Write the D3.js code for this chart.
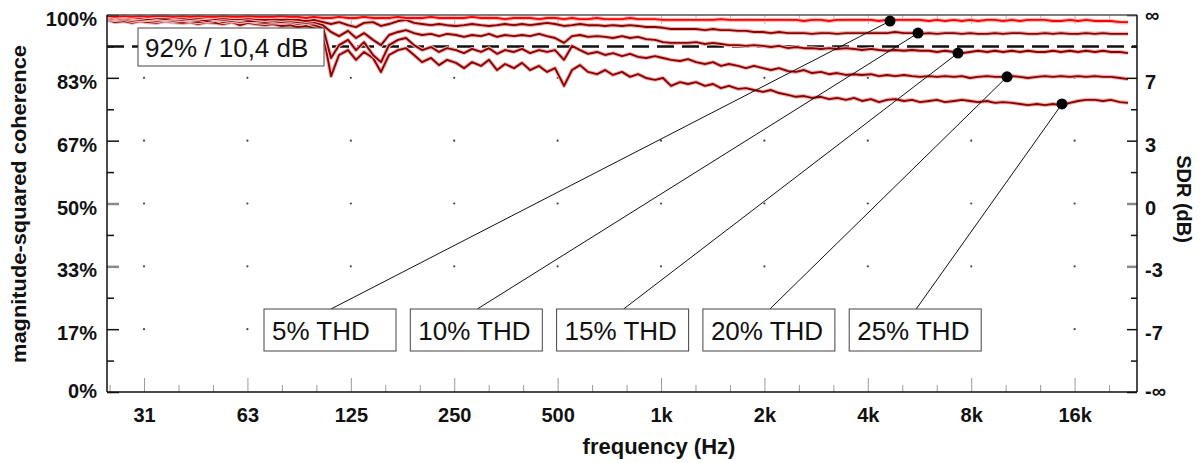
<!DOCTYPE html>
<html><head><meta charset="utf-8">
<script src="https://cdn.jsdelivr.net/npm/d3@7"></script>
<style>
html,body{margin:0;padding:0;background:#fff;}
svg{display:block;font-family:"Liberation Sans",Arial,Helvetica,sans-serif;}
</style></head><body>
<svg id="chart" width="1200" height="463"></svg>
<script>
// ---------------- data ----------------
const frequencies = [
 24.38,25.73,27.33,28.83,30.42,32.10,34.10,35.98,37.96,40.32,
 42.54,44.88,47.66,50.30,53.07,56.37,59.47,62.75,66.21,70.32,
 74.20,78.29,83.16,87.74,92.57,97.68,103.75,109.47,115.50,122.67,
 129.43,136.57,145.04,153.03,161.47,171.51,180.97,190.94,201.46,213.99,
 225.78,238.22,253.03,266.98,281.69,299.20,315.69,333.09,351.44,373.28,
 393.84,415.56,441.41,465.75,491.41,521.97,550.72,581.06,613.09,651.19,
 687.06,724.91,770.00,812.44,857.22,904.34,960.56,1013.4,1069.3,1135.8,
 1198.2,1264.2,1342.6,1416.7,1494.8,1577.0,1675.0,1767.3,1864.7,1981.2,
 2090.0,2205.4,2342.6,2471.6,2607.8,2751.1,2922.3,3083.5,3253.2,3455.8,
 3646.2,3847.2,4087.2,4312.2,4550.0,4800.3,5099.1,5380.0,5675.9,6029.1,
 6360.9,6711.3,7129.7,7521.6,7936.6,8373.8,8893.8,9383.1,9899.1,10514,
 11094,11705,12433,13117,13840,14602,15512,16366,17268,18344,
 19354,20419,21689,22884];

const thd5 = [
 99.7,99.5,99.7,99.5,99.7,99.5,99.7,99.7,99.5,99.7,
 99.5,99.7,99.5,99.5,99.7,99.5,99.5,99.7,99.5,99.5,
 99.5,99.7,99.5,99.5,99.2,99.5,99.2,99.2,99.5,99.2,
 99.2,99.5,99.2,99.2,99.2,99.5,99.2,99.2,99.2,99.5,
 99.2,99.2,99.2,99.2,99.5,99.2,99.2,99.2,98.9,99.2,
 99.2,99.2,98.9,99.2,99.2,98.9,99.2,98.9,98.9,99.2,
 98.9,98.9,98.9,99.2,98.9,98.9,98.9,98.7,98.7,98.7,
 98.7,98.7,98.7,98.7,98.9,98.7,98.7,98.7,98.7,98.7,
 98.7,98.7,98.7,98.7,98.4,98.7,98.7,98.4,98.7,98.7,
 98.7,98.7,98.7,98.4,98.7,98.7,98.7,98.7,98.7,98.4,
 98.7,98.4,98.7,98.4,98.7,98.4,98.7,98.7,98.4,98.7,
 98.4,98.7,98.7,98.7,98.4,98.4,98.7,98.4,98.7,98.4,
 98.4,98.4,98.1,98.1];

const thd10 = [
 99.5,99.2,99.5,99.2,99.2,99.5,99.2,98.9,99.2,99.2,
 98.9,99.2,99.2,98.9,99.2,98.9,98.9,99.2,98.9,98.7,
 98.9,98.7,98.9,98.7,98.4,98.7,98.1,97.6,98.1,97.3,
 96.8,97.9,98.1,97.1,97.6,98.4,98.7,97.9,97.6,97.3,
 97.6,97.3,97.1,97.3,97.6,97.3,97.1,97.3,97.6,97.3,
 97.6,97.3,97.6,97.9,97.6,97.1,97.3,97.6,97.3,97.3,
 97.1,97.3,97.1,97.3,97.1,96.8,96.8,96.6,96.3,96.3,
 96.3,96.3,96.0,96.3,96.0,96.0,95.8,95.8,95.5,95.5,
 95.2,95.5,95.2,95.2,95.2,95.0,95.2,95.2,95.0,95.2,
 95.2,95.2,95.2,95.2,95.2,95.5,95.2,95.2,95.0,95.2,
 95.0,95.2,95.2,95.0,95.2,95.0,95.0,95.2,95.0,95.2,
 95.2,95.0,95.0,95.2,95.0,95.2,95.0,95.0,95.2,95.0,
 95.2,95.0,95.0,95.0];

const thd15 = [
 99.2,98.9,99.2,98.9,98.7,98.9,98.9,98.7,98.9,98.7,
 98.7,98.9,98.4,98.7,98.7,98.4,98.7,98.4,98.4,98.7,
 98.4,98.1,98.4,98.1,97.9,98.1,97.3,95.5,94.4,95.8,
 93.9,95.2,93.4,92.0,94.7,95.5,96.0,95.2,94.7,95.0,
 94.4,95.0,94.7,94.2,94.7,94.4,95.0,94.2,94.7,94.4,
 94.7,94.4,95.0,94.4,93.9,92.6,94.4,94.7,94.2,94.4,
 94.2,93.9,94.4,93.9,94.2,93.6,93.4,92.8,92.6,92.6,
 92.6,92.8,92.3,92.6,92.3,92.0,92.0,91.8,92.0,91.8,
 91.5,91.8,91.2,91.5,91.2,91.2,91.0,91.2,91.0,91.2,
 91.0,90.7,91.0,90.7,90.5,90.7,90.5,90.7,90.5,90.5,
 90.2,90.5,90.2,89.9,90.2,90.5,90.2,90.5,90.2,90.5,
 90.2,90.5,90.2,90.2,90.5,90.2,90.5,90.2,90.5,90.2,
 90.5,90.2,90.2,89.9];

const thd20 = [
 98.9,98.7,98.9,98.4,98.7,98.7,98.4,98.7,98.4,98.7,
 98.4,98.1,98.4,98.7,98.1,98.4,98.1,98.4,98.1,97.9,
 98.1,97.9,98.1,97.6,97.9,97.3,96.6,88.6,92.0,93.4,
 90.7,92.8,89.4,87.5,92.0,93.4,93.9,92.0,90.7,91.5,
 90.2,91.2,90.7,89.9,91.0,90.2,91.2,89.7,90.7,90.2,
 91.0,89.9,90.7,90.2,90.7,88.1,91.8,90.7,89.7,90.2,
 89.4,89.9,89.1,89.7,88.9,88.6,89.1,88.6,88.1,87.8,
 88.3,87.5,87.0,87.5,86.5,87.0,86.5,85.9,86.5,85.9,
 85.4,85.9,85.1,84.9,85.4,84.6,84.9,84.3,84.6,84.1,
 84.3,84.1,84.3,83.8,84.1,83.8,84.1,83.8,83.6,83.8,
 83.6,83.8,83.6,83.8,83.3,83.6,83.8,83.6,83.6,83.8,
 83.6,83.3,83.6,83.8,83.6,83.8,83.6,83.8,83.6,83.8,
 83.6,83.6,83.3,83.0];

const thd25 = [
 98.7,98.1,98.4,97.9,98.4,98.1,97.9,98.4,98.1,97.9,
 98.1,97.6,98.1,97.9,97.6,98.1,97.3,97.9,97.6,97.3,
 97.6,97.1,97.3,96.8,97.1,96.6,95.2,83.8,89.4,90.7,
 88.1,90.2,88.6,84.9,89.4,90.7,91.2,89.4,87.5,88.6,
 86.7,88.1,87.3,85.9,87.5,86.5,88.1,85.4,87.0,85.9,
 87.3,85.4,86.5,84.9,85.9,81.2,85.4,86.7,84.9,84.3,
 85.4,84.1,84.9,83.6,84.3,83.3,82.8,83.3,81.2,82.2,
 81.7,82.2,81.2,81.7,80.6,81.2,80.4,80.6,80.1,79.6,
 80.1,79.3,78.8,78.3,78.5,78.0,78.3,77.7,78.0,77.5,
 78.0,77.2,77.7,76.9,77.5,77.7,77.2,77.5,76.9,77.2,
 77.5,76.9,77.2,77.5,77.2,76.9,77.2,76.7,76.9,76.7,
 76.4,76.1,76.4,76.1,76.4,76.1,76.7,77.2,77.5,77.5,
 77.2,77.5,76.9,76.7];

const seriesLabels = ["5% THD","10% THD","15% THD","20% THD","25% THD"];
const markerFreqs = [4642, 5600, 7321, 10171, 14702];
const markerValues = [98.4, 95.2, 89.9, 83.6, 76.4];

const thresholdValue = 91.64;
const thresholdLabel = "92% / 10,4 dB";

const xTickValues = [31.25, 62.5, 125, 250, 500, 1000, 2000, 4000, 8000, 16000];
const xTickLabels = ["31","63","125","250","500","1k","2k","4k","8k","16k"];
const yTickValues = [0, 100/6, 200/6, 50, 400/6, 500/6, 100];
const yTickLabels = ["0%","17%","33%","50%","67%","83%","100%"];
const sdrTickLabels = ["-∞","-7","-3","0","3","7","∞"];

// ---------------- layout ----------------
const L = 107, R = 1137, T = 15, B = 392;
const svg = d3.select("#chart");
const x = d3.scaleLog().domain([24.38, 24309]).range([L, R]);
const y = d3.scaleLinear().domain([0, 100]).range([B, T]);

const thirdOctaves = d3.range(-1, 29).filter(k => k % 3 !== 0).map(k => 31.25 * Math.pow(2, k / 3));
const yMinor = d3.range(1, 12, 2).map(k => k * 100 / 12);

// grid dots
const dots = svg.append("g");
xTickValues.forEach(f => {
  yTickValues.slice(1, -1).forEach(v => {
    dots.append("circle").attr("cx", x(f)).attr("cy", y(v)).attr("r", 1.1).attr("fill", "#444");
  });
});

function styleTicks(sel, color, width) {
  sel.select(".domain").remove();
  sel.selectAll(".tick line").attr("stroke", color).attr("stroke-width", width);
}
// bottom ticks
const bMinor = svg.append("g").attr("transform", `translate(0,${B})`)
  .call(d3.axisBottom(x).tickValues(thirdOctaves).tickFormat("").tickSizeInner(-7).tickSizeOuter(0));
styleTicks(bMinor, "#9a9a9a", 1);
const bMajor = svg.append("g").attr("transform", `translate(0,${B})`)
  .call(d3.axisBottom(x).tickValues(xTickValues).tickFormat((d, i) => xTickLabels[i])
    .tickSizeInner(-14).tickSizeOuter(0).tickPadding(16));
styleTicks(bMajor, "#9a9a9a", 1);
bMajor.selectAll("text").attr("font-size", 20).attr("font-weight", "bold").attr("fill", "#111")
  .attr("font-family", '"Liberation Sans",Arial,sans-serif');

// top ticks
const tMinor = svg.append("g").attr("transform", `translate(0,${T})`)
  .call(d3.axisTop(x).tickValues(thirdOctaves).tickFormat("").tickSizeInner(-6).tickSizeOuter(0));
styleTicks(tMinor, "#a9bccb", 1);
const tMajor = svg.append("g").attr("transform", `translate(0,${T})`)
  .call(d3.axisTop(x).tickValues(xTickValues).tickFormat("").tickSizeInner(-9).tickSizeOuter(0));
styleTicks(tMajor, "#a9bccb", 1);

// threshold dashed line
svg.append("line").attr("x1", L).attr("x2", R).attr("y1", y(thresholdValue)).attr("y2", y(thresholdValue))
  .attr("stroke", "#111").attr("stroke-width", 2.3).attr("stroke-dasharray", "17,8");

// data lines
const seriesList = [thd5, thd10, thd15, thd20, thd25];
const lineColors = ["#ff0000", "#8e0000", "#8e0000", "#8e0000", "#8e0000"];
const haloColors = ["#ffb4b4", "#e9b4b4", "#e9b4b4", "#e9b4b4", "#e9b4b4"];
const lineGen = d3.line().x((d, i) => x(frequencies[i])).y(d => y(d));
const linesG = svg.append("g");
for (let s = seriesList.length - 1; s >= 0; s--) {
  linesG.append("path").attr("d", lineGen(seriesList[s])).attr("fill", "none")
    .attr("stroke", haloColors[s]).attr("stroke-width", 4).attr("stroke-linejoin", "round");
  linesG.append("path").attr("d", lineGen(seriesList[s])).attr("fill", "none")
    .attr("stroke", lineColors[s]).attr("stroke-width", 1.9).attr("stroke-linejoin", "round");
}

// left axis
const lMinor = svg.append("g").attr("transform", `translate(${L},0)`)
  .call(d3.axisLeft(y).tickValues(yMinor).tickFormat("").tickSizeInner(-7).tickSizeOuter(0));
styleTicks(lMinor, "#111", 1.5);
const lMajor = svg.append("g").attr("transform", `translate(${L},0)`)
  .call(d3.axisLeft(y).tickValues(yTickValues).tickFormat((d, i) => yTickLabels[i])
    .tickSizeInner(-12).tickSizeOuter(0).tickPadding(10));
styleTicks(lMajor, "#111", 1.5);
lMajor.selectAll(".tick line").filter((d, i) => i === 2 || i === 3).attr("stroke", "#8a8a8a").attr("stroke-width", 2.5);
lMajor.selectAll("text").attr("font-size", 20).attr("font-weight", "bold").attr("fill", "#111")
  .attr("font-family", '"Liberation Sans",Arial,sans-serif')
  .attr("dy", null).attr("y", (d, i) => i === 0 ? 5 : 10.5);

// right axis
const rMinor = svg.append("g").attr("transform", `translate(${R},0)`)
  .call(d3.axisRight(y).tickValues(yMinor).tickFormat("").tickSizeInner(-6).tickSizeOuter(0));
styleTicks(rMinor, "#111", 1.5);
const rMajor = svg.append("g").attr("transform", `translate(${R},0)`)
  .call(d3.axisRight(y).tickValues(yTickValues).tickFormat((d, i) => sdrTickLabels[i])
    .tickSizeInner(-10).tickSizeOuter(0).tickPadding(8));
styleTicks(rMajor, "#111", 1.5);
rMajor.selectAll(".tick line").filter((d, i) => i === 2 || i === 3).attr("stroke", "#8a8a8a").attr("stroke-width", 2.5);
rMajor.selectAll("text").attr("font-size", 20).attr("font-weight", "bold").attr("fill", "#111")
  .attr("font-family", '"Liberation Sans",Arial,sans-serif')
  .attr("dy", null).attr("y", (d, i) => i === 0 ? 5 : (i === 6 ? 6 : 10.5));

// frame
svg.append("line").attr("x1", L).attr("x2", R).attr("y1", T).attr("y2", T).attr("stroke", "#555").attr("stroke-width", 1.5);
svg.append("line").attr("x1", L).attr("x2", R).attr("y1", B).attr("y2", B).attr("stroke", "#111").attr("stroke-width", 1.5);
svg.append("line").attr("x1", L).attr("x2", L).attr("y1", T).attr("y2", B).attr("stroke", "#111").attr("stroke-width", 1.5);
svg.append("line").attr("x1", R).attr("x2", R).attr("y1", T).attr("y2", B).attr("stroke", "#111").attr("stroke-width", 1.5);

// annotations: leader lines, markers, boxes
const boxY = 309, boxW = 132, boxH = 42;
const boxX = i => 264 + i * 146.3;
const ann = svg.append("g");
markerFreqs.forEach((f, i) => {
  ann.append("line").attr("x1", x(f)).attr("y1", y(markerValues[i]))
    .attr("x2", boxX(i) + 67).attr("y2", boxY).attr("stroke", "#111").attr("stroke-width", 1);
});
markerFreqs.forEach((f, i) => {
  ann.append("circle").attr("cx", x(f)).attr("cy", y(markerValues[i])).attr("r", 5.5).attr("fill", "#000");
});
seriesLabels.forEach((lab, i) => {
  ann.append("rect").attr("x", boxX(i)).attr("y", boxY).attr("width", boxW).attr("height", boxH)
    .attr("fill", "#fff").attr("stroke", "#444").attr("stroke-width", 1);
  ann.append("text").attr("x", boxX(i) + 8).attr("y", boxY + 31).text(lab)
    .attr("font-size", 26).attr("fill", "#111");
});

// threshold label
ann.append("rect").attr("x", 138).attr("y", 28).attr("width", 186).attr("height", 38)
  .attr("fill", "#fff").attr("stroke", "#444").attr("stroke-width", 1);
ann.append("text").attr("x", 145).attr("y", 57).text(thresholdLabel)
  .attr("font-size", 26).attr("fill", "#111");

// axis titles
svg.append("text").attr("transform", `translate(26,204) rotate(-90)`).attr("text-anchor", "middle")
  .attr("font-size", 20).attr("font-weight", "bold").attr("fill", "#111")
  .attr("textLength", 318).attr("lengthAdjust", "spacingAndGlyphs")
  .text("magnitude-squared coherence");
svg.append("text").attr("transform", `translate(1177,199) rotate(90)`).attr("text-anchor", "middle")
  .attr("font-size", 20).attr("font-weight", "bold").attr("fill", "#111")
  .text("SDR (dB)");
svg.append("text").attr("x", 659).attr("y", 454).attr("text-anchor", "middle")
  .attr("font-size", 22).attr("font-weight", "bold").attr("fill", "#111")
  .text("frequency (Hz)");
</script>
</body></html>
